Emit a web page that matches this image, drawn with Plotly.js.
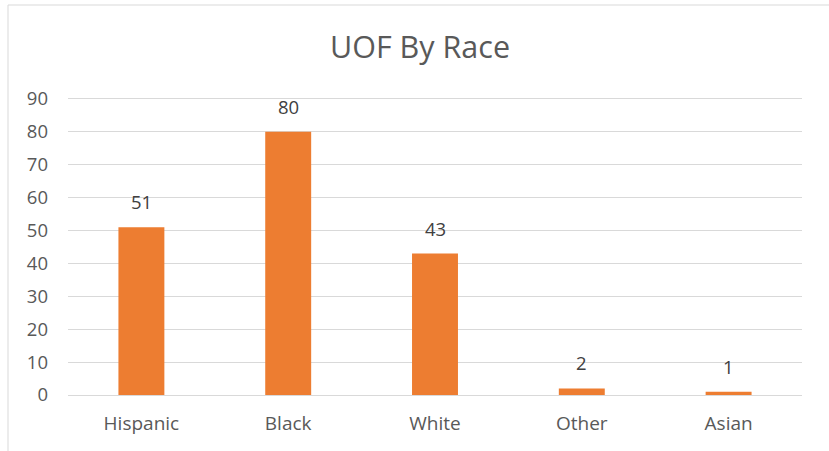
<!DOCTYPE html>
<html><head><meta charset="utf-8">
<script src="https://cdn.plot.ly/plotly-3.0.1.min.js"></script>
<style>html,body{margin:0;padding:0;background:#fff;}#chart{width:829px;height:451px;}</style>
</head><body><div id="chart"></div>
<script>
const categories = ["Hispanic", "Black", "White", "Other", "Asian"];
const values = [51, 80, 43, 2, 1];
const yTicks = [0, 10, 20, 30, 40, 50, 60, 70, 80, 90];

const font = "Open Sans, Noto Sans, sans-serif";
const trace = {
  type: "bar", x: categories, y: values,
  marker: {color: "#ED7D31"}, hoverinfo: "none"
};
const annotations = categories.map((c, i) => ({
  x: c, y: values[i], xref: "x", yref: "y", text: String(values[i]),
  showarrow: false, yanchor: "bottom", yshift: 11,
  font: {family: font, size: 18.5, color: "#404040"}
}));
const layout = {
  width: 829, height: 451,
  margin: {l: 68, r: 27, t: 97, b: 56},
  paper_bgcolor: "#fff", plot_bgcolor: "#fff",
  title: {text: "UOF By Race", x: 420/829, xanchor: "center", y: 1 - 47/451, yanchor: "middle",
          font: {family: font, size: 30.5, color: "#595959"}},
  bargap: 0.687,
  showlegend: false,
  xaxis: {type: "category", showgrid: false, zeroline: false, showline: false, ticks: "",
          ticklabelstandoff: 15, tickfont: {family: font, size: 19, color: "#595959"}},
  yaxis: {range: [0, 90.6], tickvals: yTicks, showgrid: true, gridcolor: "#D9D9D9", gridwidth: 1,
          zeroline: true, zerolinecolor: "#D9D9D9", zerolinewidth: 1, showline: false, ticks: "",
          ticklabelstandoff: 19, tickfont: {family: font, size: 18.5, color: "#595959"}},
  annotations: annotations,
  shapes: [
    {type: "line", xref: "paper", yref: "paper", x0: -60/734, x1: -60/734, y0: 1 + 92/298, y1: -60/298,
     line: {color: "#D9D9D9", width: 1}},
    {type: "line", xref: "paper", yref: "paper", x0: -60/734, x1: 1.1, y0: 1 + 92/298, y1: 1 + 92/298,
     line: {color: "#D9D9D9", width: 1}}
  ]
};
Plotly.newPlot("chart", [trace], layout, {staticPlot: true, displayModeBar: false});
</script></body></html>
